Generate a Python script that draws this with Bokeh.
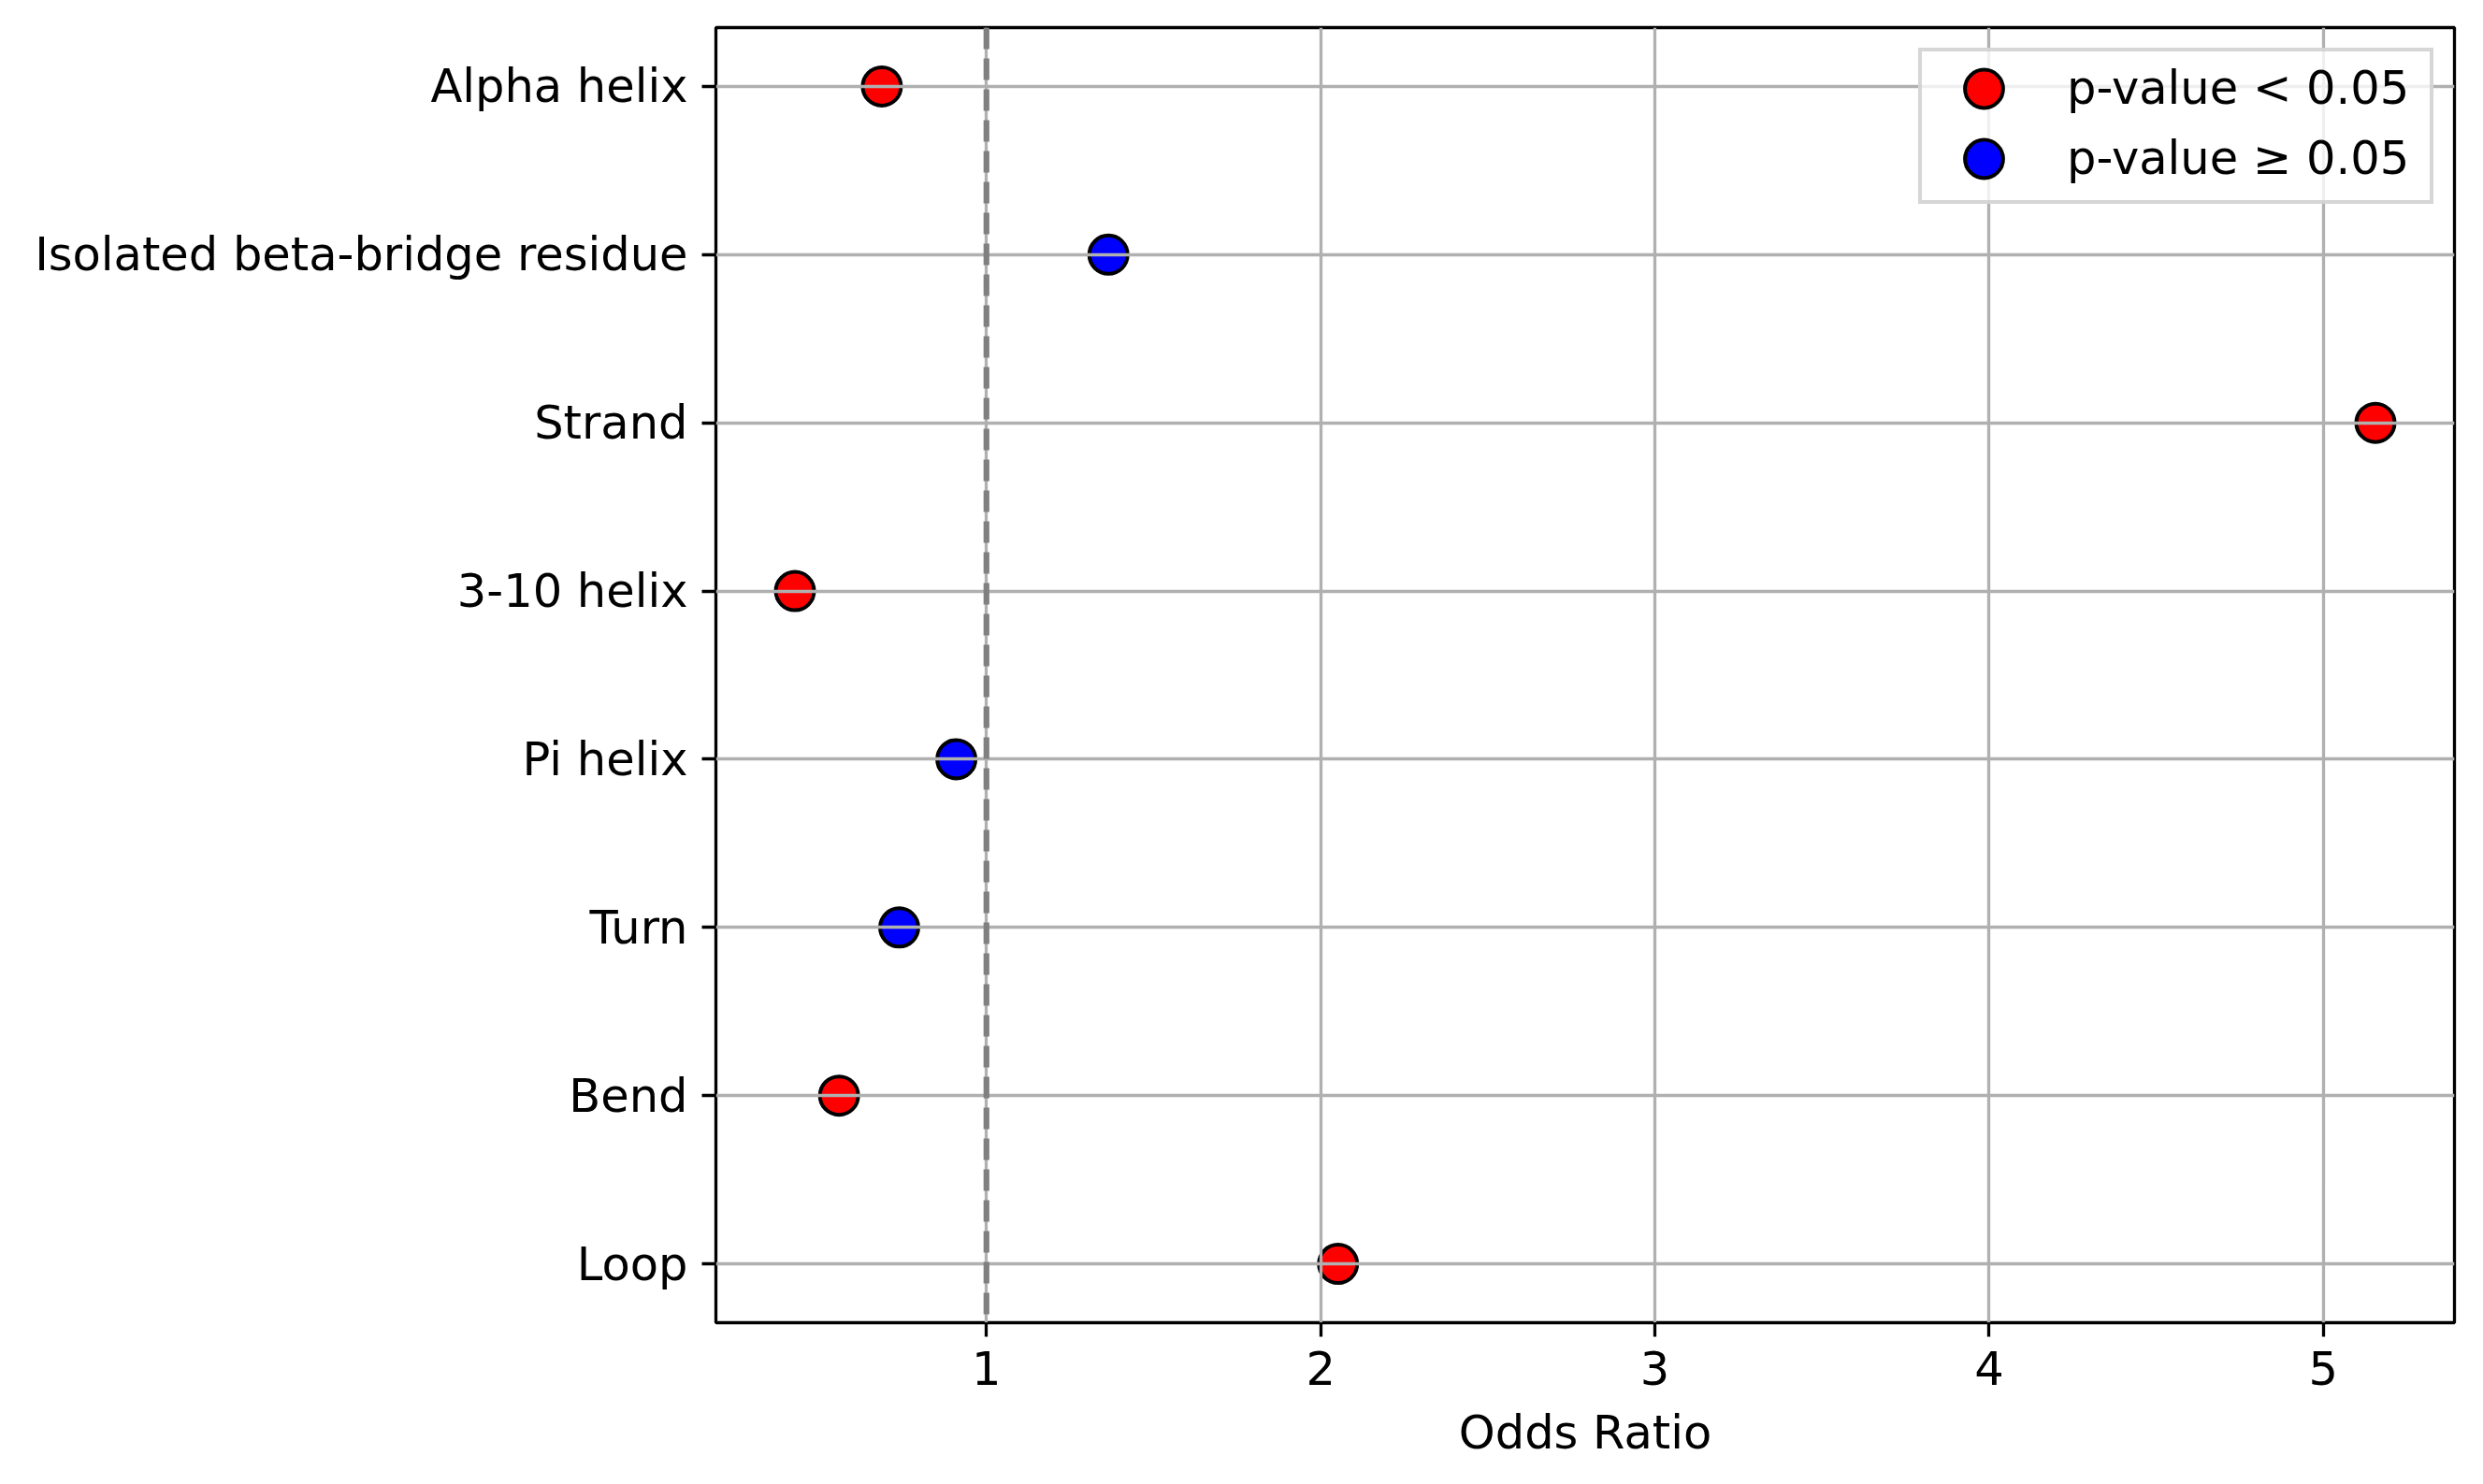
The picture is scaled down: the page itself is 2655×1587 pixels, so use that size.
from bokeh.plotting import figure
from bokeh.models import Range1d, FixedTicker, Span, Legend, LegendItem, ColumnDataSource
from bokeh.embed import file_html
from bokeh.resources import INLINE

# ---- data ----
categories = ["Alpha helix", "Isolated beta-bridge residue", "Strand", "3-10 helix",
              "Pi helix", "Turn", "Bend", "Loop"]
odds_ratio = [0.687, 1.365, 5.156, 0.427, 0.910, 0.739, 0.559, 2.052]
significant = [True, False, True, True, False, False, True, True]
x_ticks = [1, 2, 3, 4, 5]
ref_line = 1.0
legend_labels = ["p-value < 0.05", "p-value \u2265 0.05"]

n = len(categories)
ypos = [n - 1 - i for i in range(n)]

def subset(flag):
    idx = [i for i in range(n) if significant[i] == flag]
    return ColumnDataSource(dict(x=[odds_ratio[i] for i in idx],
                                 y=[ypos[i] for i in idx],
                                 name=[categories[i] for i in idx]))

xmin, xmax = min(odds_ratio + [ref_line]), max(odds_ratio + [ref_line])
xm = 0.05 * (xmax - xmin)
ym = 0.05 * (n - 1)

FONT = "DejaVu Sans"
FS = "49.5px"
MS = 41  # marker diameter in screen px

p = figure(frame_width=1859, frame_height=1385,
           x_range=Range1d(xmin - xm, xmax + xm),
           y_range=Range1d(-ym, n - 1 + ym),
           output_backend="svg", toolbar_location=None,
           min_border_left=765, min_border_top=29, min_border_right=23,
           min_border_bottom=165)

p.background_fill_color = "white"
p.border_fill_color = "white"
p.outline_line_color = "black"
p.outline_line_width = 3.3

for g in (p.xgrid, p.ygrid):
    g.grid_line_color = "#b0b0b0"
    g.grid_line_width = 3.3
    g.level = "underlay"

p.xaxis.ticker = FixedTicker(ticks=x_ticks)
p.yaxis.ticker = FixedTicker(ticks=ypos)
p.yaxis.major_label_overrides = {ypos[i]: categories[i] for i in range(n)}

for ax in (p.xaxis[0], p.yaxis[0]):
    ax.axis_line_color = None
    ax.major_tick_line_color = "black"
    ax.major_tick_line_width = 3.3
    ax.major_tick_out = 15
    ax.major_tick_in = 0
    ax.minor_tick_line_color = None
    ax.major_label_standoff = 15
    ax.major_label_text_font = FONT
    ax.major_label_text_font_size = FS
    ax.major_label_text_color = "black"
    ax.axis_label_text_font = FONT
    ax.axis_label_text_font_size = FS
    ax.axis_label_text_font_style = "normal"
    ax.axis_label_text_color = "black"

p.xaxis.axis_label = "Odds Ratio"
p.xaxis.axis_label_standoff = 19

span = Span(location=ref_line, dimension="height", line_color="#808080",
            line_width=6.2, line_dash="23 10")
p.add_layout(span)

r_sig = p.ellipse("x", "y", source=subset(True), width=MS, height=MS,
                  width_units="screen", height_units="screen",
                  fill_color="#ff0000", line_color="black", line_width=4, level="image")
r_ns = p.ellipse("x", "y", source=subset(False), width=MS, height=MS,
                 width_units="screen", height_units="screen",
                 fill_color="#0000ff", line_color="black", line_width=4, level="image")

legend = Legend(items=[LegendItem(label=legend_labels[0], renderers=[r_sig]),
                       LegendItem(label=legend_labels[1], renderers=[r_ns])],
                location="top_right")
legend.margin = 22
legend.padding = dict(left=0, right=0, top=10, bottom=16)
legend.spacing = 17
legend.glyph_width = 132
legend.glyph_height = 51
legend.label_standoff = 23
legend.label_width = 388
legend.label_text_font = FONT
legend.label_text_font_size = FS
legend.label_text_color = "black"
legend.border_line_color = "#cccccc"
legend.border_line_width = 4
legend.border_line_alpha = 0.8
legend.background_fill_color = "white"
legend.background_fill_alpha = 0.8
p.add_layout(legend)

open("out.html", "w").write(file_html(p, INLINE))
